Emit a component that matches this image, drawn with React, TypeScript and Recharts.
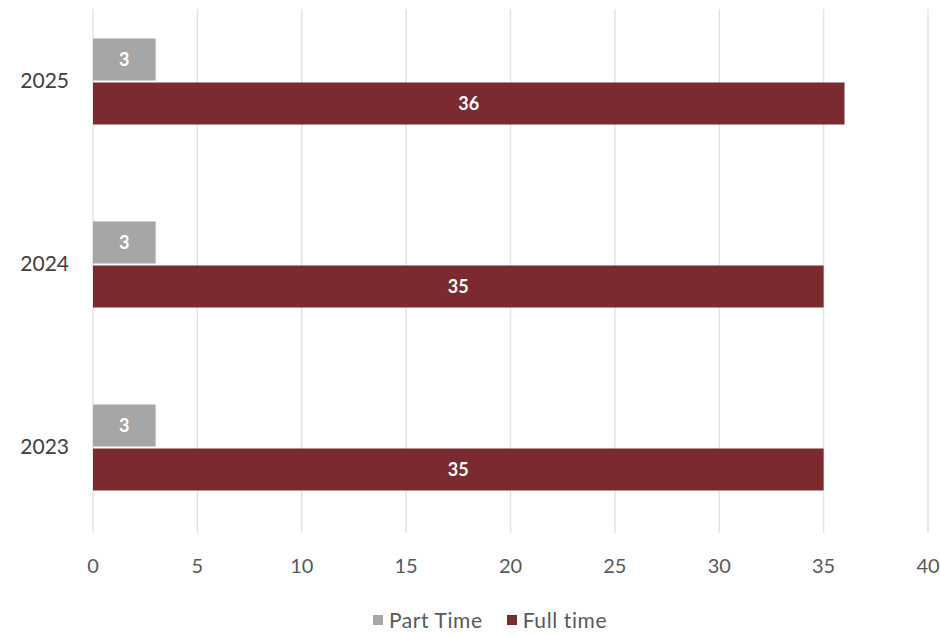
import { Bar, BarChart, CartesianGrid, LabelList, Legend, XAxis, YAxis } from 'recharts';

const years = ['2025', '2024', '2023'];
const partTime = [3, 3, 3];
const fullTime = [36, 35, 35];
const xTicks = [0, 5, 10, 15, 20, 25, 30, 35, 40];

const seriesNames = ['Part Time', 'Full time'];
const seriesColors = ['#a6a6a6', '#7b2a30'];

const data = years.map((year, i) => ({
  year,
  partTime: partTime[i],
  fullTime: fullTime[i],
}));

const FONT = 'Lato, "Open Sans", sans-serif';

function LegendBox() {
  return (
    <div
      style={{
        display: 'flex',
        justifyContent: 'center',
        width: 940,
        paddingLeft: 40,
        paddingTop: 13,
        boxSizing: 'border-box',
        fontFamily: FONT,
        fontSize: 21,
        lineHeight: '20px',
        color: '#595959',
        letterSpacing: 0.6,
      }}
    >
      {seriesNames.map((name, i) => (
        <div key={name} style={{ display: 'flex', alignItems: 'center', marginRight: i === 0 ? 24 : 0 }}>
          <span style={{ width: 10, height: 10, background: seriesColors[i], marginRight: 6, display: 'inline-block' }} />
          <span>{name}</span>
        </div>
      ))}
    </div>
  );
}

export default function App() {
  return (
    <div style={{ position: 'absolute', left: 0, top: 0, fontFamily: FONT }}>
      <BarChart
        width={940}
        height={636}
        data={data}
        layout="vertical"
        margin={{ top: 9, right: 12, bottom: 0, left: 0 }}
        barGap={2}
        barSize={42}
      >
        <CartesianGrid horizontal={false} stroke="#e3e3e3" strokeWidth={1.5} />
        <XAxis
          type="number"
          domain={[0, 40]}
          ticks={xTicks}
          axisLine={false}
          tickLine={false}
          tickSize={0}
          tickMargin={26}
          height={64}
          tick={{ fill: '#595959', fontSize: 20, fontFamily: FONT }}
        />
        <YAxis
          type="category"
          dataKey="year"
          width={93}
          axisLine={false}
          tickLine={false}
          tickSize={0}
          tickMargin={24}
          padding={{ top: -19.5, bottom: -5.5 }}
          tick={{ fill: '#404040', fontSize: 21, fontFamily: FONT }}
        />
        <Legend verticalAlign="bottom" height={39} content={() => <LegendBox />} wrapperStyle={{ left: 0, width: 940 }} />
        <Bar dataKey="partTime" name="Part Time" fill={seriesColors[0]} isAnimationActive={false}>
          <LabelList dataKey="partTime" position="center" fill="#ffffff" fontSize={18} fontWeight="bold" />
        </Bar>
        <Bar dataKey="fullTime" name="Full time" fill={seriesColors[1]} isAnimationActive={false}>
          <LabelList dataKey="fullTime" position="center" fill="#ffffff" fontSize={18} fontWeight="bold" />
        </Bar>
      </BarChart>
    </div>
  );
}
